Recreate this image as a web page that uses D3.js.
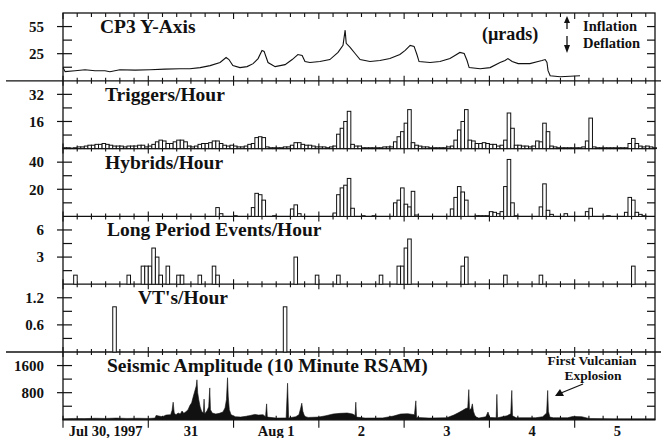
<!DOCTYPE html>
<html>
<head>
<meta charset="utf-8"/>
<script src="https://cdn.jsdelivr.net/npm/d3@7"></script>
<style>
body { margin: 0; background: #fff; }
text { font-family: "Liberation Serif", "Times New Roman", serif; font-weight: bold; fill: #111; }
</style>
</head>
<body>
<svg id="chart" width="661" height="438"></svg>
<script>
// time axis is in hours from Jul 30, 1997 00:00
var dayLabels = ["Jul 30, 1997", "31", "Aug 1", "2", "3", "4", "5"];

// CP3 tilt trace (hour, microradians)
var cp3Hours = [0, 0.6, 3.4, 6.2, 9, 11.8, 13.2, 16, 20.3, 24.5, 28.7, 32.9, 35.7, 38.6, 41.4, 44.2, 45.9, 46.7, 47.8, 49.8,
  51.8, 53.5, 54.9, 56, 56.6, 57.1, 57.7, 59.7, 62.5, 64.5, 66.1, 67.3, 68.1, 69.5, 72.3, 75.1, 77.4, 78.8, 79.4, 79.7,
  80.8, 82.2, 83.6, 86.4, 89.2, 92, 94.8, 96.3, 97.7, 98.8, 99.6, 100.2, 103.3, 106.1, 108.9, 110.3, 111.7, 112.9, 113.7, 114.3,
  117.4, 120.2, 123, 124.4, 125.2, 126.4, 128.1, 131.4, 133.7, 134.8, 135.7, 136.2, 136.5, 137.1, 139.9, 142.7, 145.5];
var cp3Values = [9.6, 5.1, 6.2, 7.3, 6.2, 6.2, 5.1, 7.3, 6.8, 7.3, 7.9, 8.4, 8.4, 9.6, 11.8, 15.2, 20.8, 18.5, 11.8, 9.6,
  10.7, 14, 19.6, 28.6, 27.5, 21.9, 15.2, 10.7, 12.9, 18.5, 24.1, 23, 16.3, 15.2, 16.3, 18.5, 26.4, 34.2, 51, 36.4,
  32, 25.2, 18.5, 16.3, 17.4, 19.6, 24.1, 28.6, 34.2, 33.1, 24.1, 16.3, 15.2, 16.3, 19.6, 23, 26.4, 25.2, 17.4, 9.6,
  8.4, 9.6, 15.2, 17.4, 19.6, 16.3, 14, 14, 16.3, 17.4, 18.5, 15.2, 6.2, 0.6, -0.5, 0, 0.6];

// hourly counts, starting at hour 0
var triggers = [
  0.5, 0.5, 0.3, 0.5, 1, 1, 1.5, 2, 2, 2.5, 2.5, 3,
  2.5, 2, 1.5, 1.5, 1.5, 1, 1.5, 1.5, 1.5, 2, 2, 1,
  1.5, 2.5, 4, 5, 4.5, 3, 3, 4, 5, 5, 4, 1.5,
  1, 1.5, 2.5, 3, 3, 3.5, 4.5, 4.5, 3, 2, 1.5, 2,
  1.5, 1, 1, 1.5, 2.5, 3, 6.5, 7, 6.5, 1, 0.5, 0.5,
  0.5, 0.5, 1, 1, 2, 3.5, 3.5, 2.5, 2, 2, 1.5, 1,
  1, 1, 0.5, 1, 1.5, 8.5, 12, 16, 22, 2.5, 1.5, 1.5,
  0.5, 0.5, 0.5, 0.5, 0.5, 0.5, 1, 1, 1, 4, 7, 10,
  15, 23, 3.5, 2, 1.5, 1, 1, 0.5, 0.5, 0.5, 0.5, 0.5,
  1, 1.5, 5, 11, 16, 23, 5, 4.5, 3, 3, 3.5, 3,
  2.5, 2.5, 1.5, 2, 5, 21, 12, 2, 2, 1.5, 1.5, 1,
  1.5, 4.5, 4, 15, 10, 1.5, 1, 0.5, 0.5, 0.5, 0.5, 0.5,
  0.5, 0.5, 1, 4.5, 18, 1, 0.5, 0.5, 0.5, 0.5, 0.5, 0.5,
  0.5, 0.5, 0.5, 3, 6, 3, 1.5, 1, 1.5, 1, 0.5];

var hybrids = [
  0, 0, 0, 0, 0, 0, 0, 0, 0, 0, 0, 0,
  0, 0, 0, 0, 0, 0, 0, 0, 0, 0, 0, 0,
  0, 0, 0, 0, 0, 0, 0, 0, 0, 0, 0, 0,
  0, 0, 0, 0, 0, 0, 0, 6.5, 2, 0, 0, 0,
  0.5, 0, 0, 0, 0, 6.5, 17, 16, 12, 0, 0, 0.5,
  0, 0, 0, 0, 5.5, 8.5, 2, 0, 0, 0, 0, 0,
  0, 0, 0, 0, 2.5, 16, 21, 23, 28, 6, 0, 0,
  0.5, 0, 0, 0.5, 0, 0, 0, 0, 0, 10, 12, 21,
  9, 7, 18.5, 1, 0, 0, 0, 0, 0, 0, 0, 0,
  0, 5.5, 14, 22, 18, 12, 0, 0, 0.5, 0.5, 0.5, 0.5,
  3.5, 3, 2, 3.5, 22, 42, 10, 0.5, 0, 0, 0, 0,
  0, 0, 7, 24, 4.5, 1.5, 0, 0, 0, 2, 0, 0,
  0, 0, 0, 3.5, 6, 0, 0, 0, 0, 0.5, 0, 0,
  0, 0, 3, 14, 12, 3, 1.5, 0.5, 0, 0, 0];

// sparse hourly counts: hour of event, count
var lpHours = [3, 18, 22, 23, 24, 25, 26, 27, 29, 32, 33, 38, 42, 43, 65, 71, 77, 89, 94, 95, 96, 97, 112, 113, 124, 134, 160];
var lpCounts = [1, 1, 2, 2, 2, 4, 3, 1, 2, 1, 1, 1, 2, 1, 3, 1, 1, 1, 2, 2, 4, 5, 2, 3, 1, 1, 2];
var vtHours = [14, 62];
var vtCounts = [1, 1];

// 10 minute RSAM (hour, amplitude)
var rsamHours = [0, 3, 6, 9, 12, 15, 18, 21, 24, 25.9, 26.2, 27, 28, 29, 30.3, 30.7, 31, 31.3, 31.8, 32.4,
  33, 33.5, 34, 34.6, 35.2, 35.7, 36.2, 36.7, 37.1, 37.5, 37.7, 37.9, 38.2, 38.6, 39, 39.5, 39.7, 39.9, 40.5, 41,
  41.3, 41.5, 42, 43, 44, 45, 45.6, 46, 46.3, 46.5, 46.8, 47.3, 48.5, 50, 52, 54, 55, 56.3, 57, 57.3,
  57.5, 60, 62.8, 63.2, 63.5, 65.5, 66.4, 66.9, 67.2, 67.5, 68, 69, 72, 74, 76, 78, 80, 81.5, 82.2, 82.4,
  82.6, 85, 90, 93, 95, 97, 98.9, 99.3, 99.5, 103, 108, 110, 111.5, 112.5, 113.3, 113.9, 114.2, 114.4, 114.9, 115.2,
  115.5, 116, 117, 119, 119.6, 120.1, 121.9, 122.1, 122.3, 125, 126, 126.3, 126.5, 127.5, 133, 135, 136.1, 136.4, 136.6, 137,
  138, 142, 143.5, 146, 148, 155, 166.6];
var rsamValues = [30, 40, 35, 45, 40, 50, 40, 45, 40, 50, 130, 110, 90, 140, 150, 280, 520, 200, 150, 200,
  170, 260, 190, 240, 300, 420, 500, 700, 850, 1000, 1180, 800, 600, 380, 250, 200, 610, 180, 260, 380,
  940, 300, 200, 170, 190, 230, 350, 600, 1240, 700, 300, 150, 90, 80, 110, 160, 140, 150, 90, 470,
  80, 50, 55, 1080, 55, 90, 150, 350, 490, 250, 100, 70, 80, 120, 170, 190, 200, 170, 130, 520,
  80, 50, 55, 110, 170, 180, 150, 560, 70, 50, 60, 140, 220, 280, 330, 350, 890, 300, 330, 470,
  250, 100, 50, 90, 230, 70, 60, 750, 60, 120, 180, 865, 120, 60, 60, 90, 200, 865, 250, 80,
  60, 60, 100, 90, 40, 30, 30];

var svg = d3.select("#chart");
var left = 63, right = 655, top0 = 13, ph = 67.8;
var x = d3.scaleLinear().domain([0, 166.6]).range([left, right]);

var panels = [
  {title: "CP3 Y-Axis", domain: [-5, 70], ticks: [10, 25, 40, 55], labels: [25, 55], tx: 100},
  {title: "Triggers/Hour", domain: [0, 40], ticks: [8, 16, 24, 32], labels: [16, 32], tx: 105},
  {title: "Hybrids/Hour", domain: [0, 50], ticks: [10, 20, 30, 40], labels: [20, 40], tx: 105},
  {title: "Long Period Events/Hour", domain: [0, 7.5], ticks: [1.5, 3, 4.5, 6], labels: [3, 6], tx: 107},
  {title: "VT's/Hour", domain: [0, 1.5], ticks: [0.3, 0.6, 0.9, 1.2], labels: [0.6, 1.2], tx: 138},
  {title: "Seismic Amplitude (10 Minute RSAM)", domain: [0, 2000], ticks: [400, 800, 1200, 1600], labels: [800, 1600], tx: 107}
];

panels.forEach(function(p, i) {
  p.top = top0 + i * ph;
  p.bottom = p.top + ph;
  p.y = d3.scaleLinear().domain(p.domain).range([p.bottom, p.top]);
  var g = svg.append("g");
  p.ticks.forEach(function(t) {
    var major = p.labels.indexOf(t) >= 0;
    g.append("line").attr("x1", major ? left - 6 : left).attr("x2", left + 9)
      .attr("y1", p.y(t)).attr("y2", p.y(t)).attr("stroke", "#111").attr("stroke-width", 1.2);
    g.append("line").attr("x1", right - 8).attr("x2", right)
      .attr("y1", p.y(t)).attr("y2", p.y(t)).attr("stroke", "#111").attr("stroke-width", 1.2);
    if (major) {
      g.append("text").attr("x", 44).attr("y", p.y(t)).attr("dy", "0.35em")
        .attr("text-anchor", "end").style("font-size", "15px").text(t);
    }
  });
  g.append("text").attr("x", p.tx).attr("y", i == 0 ? 33 : p.top + 20)
    .style("font-size", "19.5px").text(p.title);
});

// frame and separators
svg.append("rect").attr("x", left).attr("y", top0).attr("width", right - left).attr("height", 6 * ph)
  .attr("fill", "none").attr("stroke", "#111").attr("stroke-width", 1.3);
panels.slice(1).forEach(function(p, i) {
  var wide = (i == 0 || i == 4);
  svg.append("line").attr("x1", wide ? 6 : left).attr("x2", wide ? 661 : right)
    .attr("y1", p.top).attr("y2", p.top).attr("stroke", "#111").attr("stroke-width", 1.3);
});

// time ticks every 4 hours on every boundary
var tickHours = d3.range(0, 166, 4);
panels.forEach(function(p, i) {
  tickHours.forEach(function(h) {
    var major = h % 24 == 0;
    var len = major ? 5 : 3;
    svg.append("line").attr("x1", x(h)).attr("x2", x(h))
      .attr("y1", i == 0 ? p.top : p.top - len).attr("y2", p.top + len + (i == 0 ? 1 : 0))
      .attr("stroke", "#111").attr("stroke-width", 1.1);
  });
});
var last = panels[5];
tickHours.forEach(function(h) {
  var major = h % 24 == 0;
  svg.append("line").attr("x1", x(h)).attr("x2", x(h))
    .attr("y1", last.bottom - 4).attr("y2", last.bottom + (major ? 8 : 0))
    .attr("stroke", "#111").attr("stroke-width", 1.1);
});

dayLabels.forEach(function(d, i) {
  svg.append("text").attr("x", x(i * 24 + 12)).attr("y", 435.5)
    .attr("text-anchor", "middle").style("font-size", "14.5px").text(d);
});

// CP3 line
var cp3 = d3.zip(cp3Hours, cp3Values);
svg.append("path").datum(cp3)
  .attr("d", d3.line().x(function(d) { return x(d[0]); }).y(function(d) { return panels[0].y(d[1]); }))
  .attr("fill", "none").attr("stroke", "#111").attr("stroke-width", 1.1);

function drawBars(p, data) {
  svg.append("g").selectAll("rect")
    .data(data.filter(function(d) { return d[1] > 0; }))
    .join("rect")
    .attr("x", function(d) { return x(d[0]); })
    .attr("width", function(d) { return x(d[0] + 1) - x(d[0]); })
    .attr("y", function(d) { return p.y(d[1]); })
    .attr("height", function(d) { return p.bottom - p.y(d[1]); })
    .attr("fill", "#fff").attr("stroke", "#111").attr("stroke-width", 1);
}
drawBars(panels[1], triggers.map(function(v, i) { return [i, v]; }));
drawBars(panels[2], hybrids.map(function(v, i) { return [i, v]; }));
drawBars(panels[3], d3.zip(lpHours, lpCounts));
drawBars(panels[4], d3.zip(vtHours, vtCounts));

// RSAM area
var rsam = d3.zip(rsamHours, rsamValues);
svg.append("path").datum(rsam)
  .attr("d", d3.area().x(function(d) { return x(d[0]); }).y0(last.bottom).y1(function(d) { return last.y(d[1]); }))
  .attr("fill", "#111").attr("stroke", "#111").attr("stroke-width", 0.6);

// annotations
svg.append("text").attr("x", 482).attr("y", 40).style("font-size", "18px").text("(\u00b5rads)");
svg.append("text").attr("x", 583).attr("y", 31).style("font-size", "14.5px").text("Inflation");
svg.append("text").attr("x", 583).attr("y", 48).style("font-size", "14.5px").text("Deflation");
svg.append("line").attr("x1", 567).attr("x2", 567).attr("y1", 21).attr("y2", 29).attr("stroke", "#111").attr("stroke-width", 1.3);
svg.append("path").attr("d", "M567,16 L564,23 L570,23 Z").attr("fill", "#111");
svg.append("line").attr("x1", 567).attr("x2", 567).attr("y1", 36).attr("y2", 46).attr("stroke", "#111").attr("stroke-width", 1.3);
svg.append("path").attr("d", "M567,53 L564,45 L570,45 Z").attr("fill", "#111");

svg.append("text").attr("x", 592).attr("y", 365).attr("text-anchor", "middle").style("font-size", "13.5px").text("First Vulcanian");
svg.append("text").attr("x", 593).attr("y", 380).attr("text-anchor", "middle").style("font-size", "13.5px").text("Explosion");
svg.append("line").attr("x1", 583).attr("y1", 384).attr("x2", 561).attr("y2", 393).attr("stroke", "#111").attr("stroke-width", 1.2);
svg.append("path").attr("d", "M555,396 L560,389 L564,396 Z").attr("fill", "#111");
</script>
</body>
</html>
